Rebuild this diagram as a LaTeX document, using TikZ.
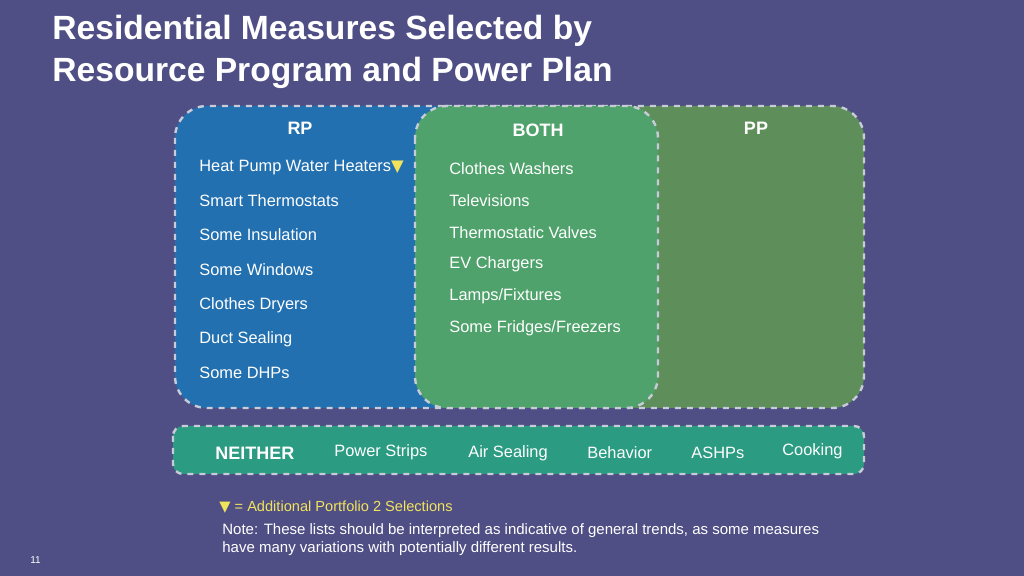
\documentclass[tikz,border=0pt]{standalone}
\usepackage{fontspec}
\setmainfont{Liberation Sans}
\newfontfamily\symfont{DejaVu Sans}
\usetikzlibrary{positioning}
\definecolor{bgcol}{HTML}{4F4F85}
\definecolor{rpcol}{HTML}{2270B0}
\definecolor{ppcol}{HTML}{5E8F5B}
\definecolor{bothcol}{HTML}{4FA26B}
\definecolor{neicol}{HTML}{2B9B82}
\definecolor{rimcol}{HTML}{C8CCD8}
\definecolor{markcol}{HTML}{F2E35C}
\newcommand{\newmark}{{\symfont\color{markcol}▼}}
\begin{document}
\begin{tikzpicture}[x=0.5pt, y=-0.5pt,
  set_box/.style={draw=rimcol, dashed, line width=1.2pt, rounded corners=16pt},
  set_head/.style={font=\fontsize{9}{10}\selectfont\bfseries, text=white},
  item/.style={font=\fontsize{8.2}{9}\selectfont, text=white, anchor=west, inner sep=0pt}]
  \fill[bgcol] (0,0) rectangle (1024,576);
  \node[anchor=west, align=left, inner sep=0pt, text=white, font=\fontsize{16.8}{21}\selectfont\bfseries] (title) at (52,52) {Residential Measures Selected by\\Resource Program and Power Plan};
  % sets
  \filldraw[set_box, fill=ppcol] (415,106) rectangle (864,408);
  \filldraw[set_box, fill=rpcol] (175,106) rectangle (470,408);
  \filldraw[set_box, fill=bothcol] (415,106) rectangle (658,408);
  \filldraw[set_box, fill=neicol, rounded corners=5pt] (173,426) rectangle (864,474);
  \node[set_head] (rp) at (300,128) {RP};
  \node[set_head] (both) at (538,130) {BOTH};
  \node[set_head] (pp) at (756,128) {PP};
  % RP only
  \node[item] (r1) at (199,168) {Heat Pump Water Heaters\newmark};
  \node[item] (r2) at (199,201) {Smart Thermostats};
  \node[item] (r3) at (199,235) {Some Insulation};
  \node[item] (r4) at (199,270) {Some Windows};
  \node[item] (r5) at (199,305) {Clothes Dryers};
  \node[item] (r6) at (199,339) {Duct Sealing};
  \node[item] (r7) at (199,373) {Some DHPs};
  % both
  \node[item] (b1) at (449,169) {Clothes Washers};
  \node[item] (b2) at (449,201) {Televisions};
  \node[item] (b3) at (449,233) {Thermostatic Valves};
  \node[item] (b4) at (449,264) {EV Chargers};
  \node[item] (b5) at (449,296) {Lamps/Fixtures};
  \node[item] (b6) at (449,328) {Some Fridges/Freezers};
  % neither
  \node[item, font=\fontsize{9}{10}\selectfont\bfseries] (n0) at (215,453) {NEITHER};
  \node[item] (n1) at (334,452) {Power Strips};
  \node[item] (n2) at (468,453) {Air Sealing};
  \node[item] (n3) at (587,453) {Behavior};
  \node[item] (n4) at (691,453) {ASHPs};
  \node[item] (n5) at (782,451) {Cooking};
  % notes
  \node[item, text=markcol, font=\fontsize{7.3}{8}\selectfont] (key) at (219,507) {\newmark\ = Additional Portfolio 2 Selections};
  \node[item, align=left, font=\fontsize{7.5}{9}\selectfont] (note) at (222,540) {Note: These lists should be interpreted as indicative of general trends, as some measures\\have many variations with potentially different results.};
  \node[item, font=\fontsize{5}{6}\selectfont] (pg) at (30,560) {11};
\end{tikzpicture}
\end{document}
